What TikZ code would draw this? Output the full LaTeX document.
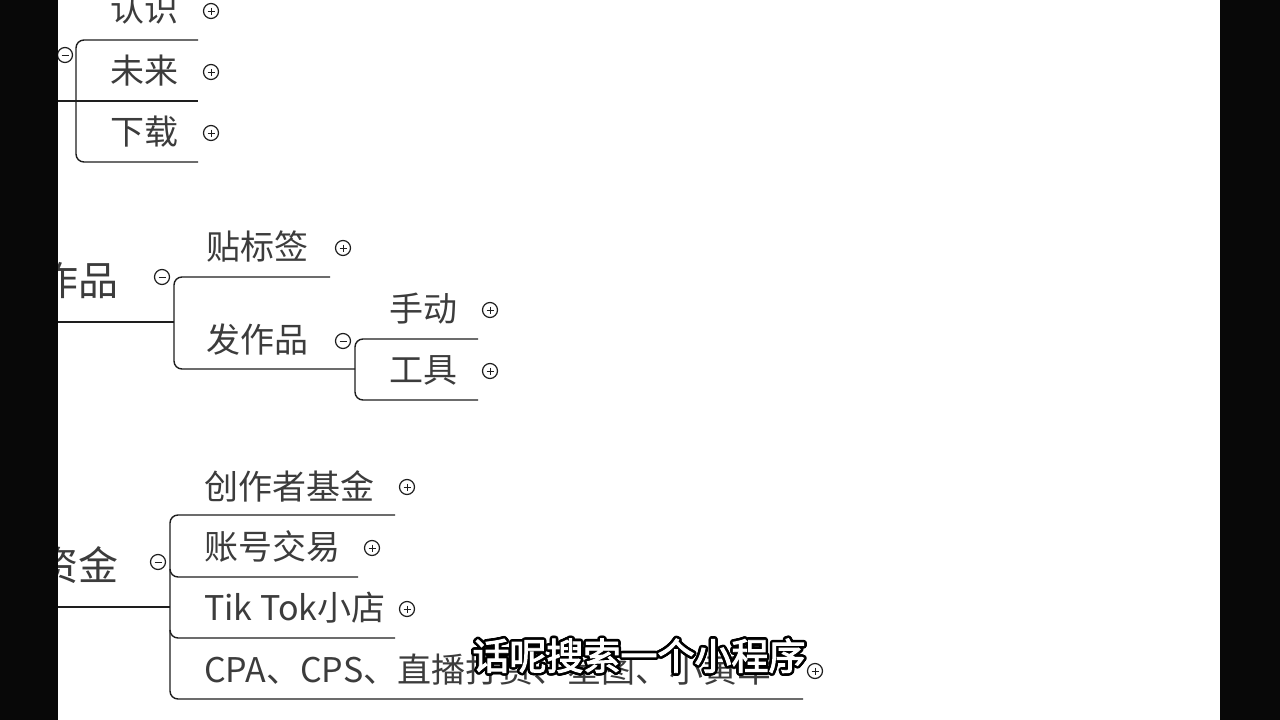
\documentclass[tikz,border=0pt]{standalone}
\usepackage{fontspec}
\setmainfont{Noto Sans CJK SC}
\newfontfamily\subfont[FakeBold=2.5]{Noto Sans CJK SC}
\usepackage[copies]{contour}
\contourlength{2.6pt}
\usetikzlibrary{positioning,calc}
\definecolor{mapink}{RGB}{60,60,60}
\definecolor{mapline}{RGB}{30,30,30}
\definecolor{barblack}{RGB}{8,8,8}

\tikzset{
  topic/.style={font=\fontsize{34}{36}\selectfont, text=mapink, inner sep=0pt, anchor=west},
  maintopic/.style={topic, font=\fontsize{40}{42}\selectfont},
  link/.style={draw=mapline, line width=1.4pt, rounded corners=8pt},
  trunk/.style={draw=mapline, line width=2.8pt},
  fold/.style={circle, draw=mapline, fill=white, line width=1.2pt, minimum size=15pt, inner sep=0pt},
  expand/.style={fold, path picture={
      \draw[line width=1pt] ([xshift=4pt]path picture bounding box.west) -- ([xshift=-4pt]path picture bounding box.east);
      \draw[line width=1pt] ([yshift=-4pt]path picture bounding box.north) -- ([yshift=4pt]path picture bounding box.south);}},
  collapse/.style={fold, path picture={
      \draw[line width=1pt] ([xshift=4pt]path picture bounding box.west) -- ([xshift=-4pt]path picture bounding box.east);}},
  subtitle/.style={font=\subfont\fontsize{37}{40}\selectfont, text=white, inner sep=0pt}
}

\begin{document}
\begin{tikzpicture}[x=1pt, y=-1pt]
  \useasboundingbox (0,0) rectangle (1280,720);
  \fill[white] (0,0) rectangle (1280,720);

  % First branch (parent off screen)
  \draw[link] (198,40) -- (76,40) -- (76,162) -- (198,162);
  \draw[link] (58,101) -- (198,101);
  \node[collapse] (foldA) at (65,55) {};
  \node[topic] (renshi) at (110,9) {认识};
  \node[topic] (weilai) at (110,71) {未来};
  \node[topic] (xiazai) at (110,132) {下载};
  \node[expand] (plusRenshi) at (211,11) {};
  \node[expand] (plusWeilai) at (211,72) {};
  \node[expand] (plusXiazai) at (211,133) {};

  % Works
  \node[maintopic] (zuopin) at (38,280) {作品};
  \draw[trunk] (58,322) -- (150,322);
  \draw[link] (150,322) -- (174,322);
  \node[collapse] (foldZuopin) at (162,277) {};
  \draw[link] (330,277) -- (174,277) -- (174,369) -- (355,369);
  \node[topic] (tiebiaoqian) at (206,247) {贴标签};
  \node[expand] (plusTie) at (343,248) {};
  \node[topic] (fazuopin) at (206,340) {发作品};
  \node[collapse] (foldFa) at (343,341) {};
  % Sub branch of posting
  \draw[link] (478,339) -- (355,339) -- (355,400) -- (478,400);
  \node[topic] (shoudong) at (389,309) {手动};
  \node[expand] (plusShou) at (490,310) {};
  \node[topic] (gongju) at (389,370) {工具};
  \node[expand] (plusGong) at (490,371) {};

  % Money
  \node[maintopic] (zijin) at (38,565) {资金};
  \draw[trunk] (58,607) -- (145,607);
  \draw[link] (145,607) -- (170,607);
  \node[collapse] (foldZijin) at (158,562) {};
  \draw[link] (395,515) -- (170,515) -- (170,699) -- (803,699);
  \draw[link] (170,569) |- (358,577);
  \draw[link] (170,630) |- (395,638);
  \node[topic] (jijin) at (204,486) {创作者基金};
  \node[expand] (plusJijin) at (407,487) {};
  \node[topic] (jiaoyi) at (204,547) {账号交易};
  \node[expand] (plusJiaoyi) at (372,548) {};
  \node[topic] (xiaodian) at (204,608) {Tik Tok小店};
  \node[expand] (plusDian) at (407,609) {};
  \node[topic] (cpa) at (204,670) {CPA、CPS、直播打赏、星图、小黄车};
  \node[expand] (plusCpa) at (815,671) {};

  % Caption over the picture
  \node[subtitle] (caption) at (639,657) {\contour{black}{话呢搜索一个小程序}};

  % Side bars
  \fill[barblack] (0,0) rectangle (58,720);
  \fill[barblack] (1220,0) rectangle (1280,720);
\end{tikzpicture}
\end{document}
